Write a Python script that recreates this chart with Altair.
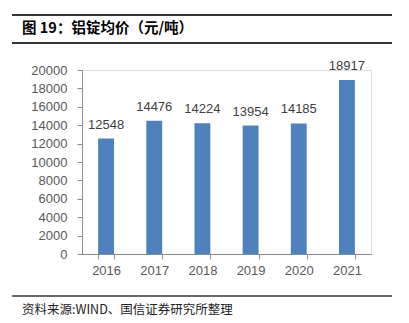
import altair as alt
import pandas as pd

years = ["2016", "2017", "2018", "2019", "2020", "2021"]
prices = [12548, 14476, 14224, 13954, 14185, 18917]
y_ticks = list(range(0, 20001, 2000))
title_text = "图 19：铝锭均价（元/吨）"
footer_text = "资料来源:WIND、国信证券研究所整理"

df = pd.DataFrame({"year": years, "price": prices})

FONT = "Liberation Sans"
CJK = "Noto Sans CJK SC"

x_enc = alt.X("year:N", sort=years,
              scale=alt.Scale(paddingInner=0.67, paddingOuter=0.335),
              axis=alt.Axis(title=None, labelAngle=0, tickBand="extent",
                            tickSize=5, labelPadding=5, labelFontSize=13,
                            labelColor="#595959", labelFont=FONT,
                            domainColor="#8c8c8c", tickColor="#8c8c8c"))
y_enc = alt.Y("price:Q",
              scale=alt.Scale(domain=[0, 20000], nice=False),
              axis=alt.Axis(title=None, values=y_ticks, grid=False, format="d",
                            labelOverlap=False, tickCount=11,
                            tickSize=5, labelPadding=10, labelFontSize=13,
                            labelColor="#595959", labelFont=FONT,
                            domainColor="#8c8c8c", tickColor="#8c8c8c"))

base = alt.Chart(df)

bars = base.mark_bar(color="#4F81BD").encode(x=x_enc, y=y_enc)

labels = base.mark_text(baseline="bottom", dy=-7, fontSize=13,
                        font=FONT, color="#404040").encode(
    x=x_enc, y=y_enc, text="price:Q")

line1 = alt.Chart(df).mark_rule(color="#333333", strokeWidth=1).encode(
    x=alt.value(-70), x2=alt.value(310), y=alt.value(-55))
line2 = alt.Chart(df).mark_rule(color="#333333", strokeWidth=1).encode(
    x=alt.value(-70), x2=alt.value(310), y=alt.value(-27))
line3 = alt.Chart(df).mark_rule(color="#666666", strokeWidth=1).encode(
    x=alt.value(-70), x2=alt.value(310), y=alt.value(226))

title = alt.Chart(pd.DataFrame({"t": [title_text]})).mark_text(
    align="left", baseline="middle", fontSize=14.5, fontWeight="bold",
    font=CJK, color="#000000").encode(
    x=alt.value(-60), y=alt.value(-41), text="t:N")

footer = alt.Chart(pd.DataFrame({"t": [footer_text]})).mark_text(
    align="left", baseline="middle", fontSize=12.5,
    font=CJK, color="#222222").encode(
    x=alt.value(-60), y=alt.value(240), text="t:N")

chart = alt.layer(bars, labels, line1, line2, line3, title, footer).properties(
    width=289, height=184,
    autosize=alt.AutoSizeParams(type="none"),
    padding={"left": 82, "top": 70, "right": 38, "bottom": 69},
).configure_view(stroke=None).configure(background="white")

chart.save("out.html", embed_options={"renderer": "svg", "actions": False})
